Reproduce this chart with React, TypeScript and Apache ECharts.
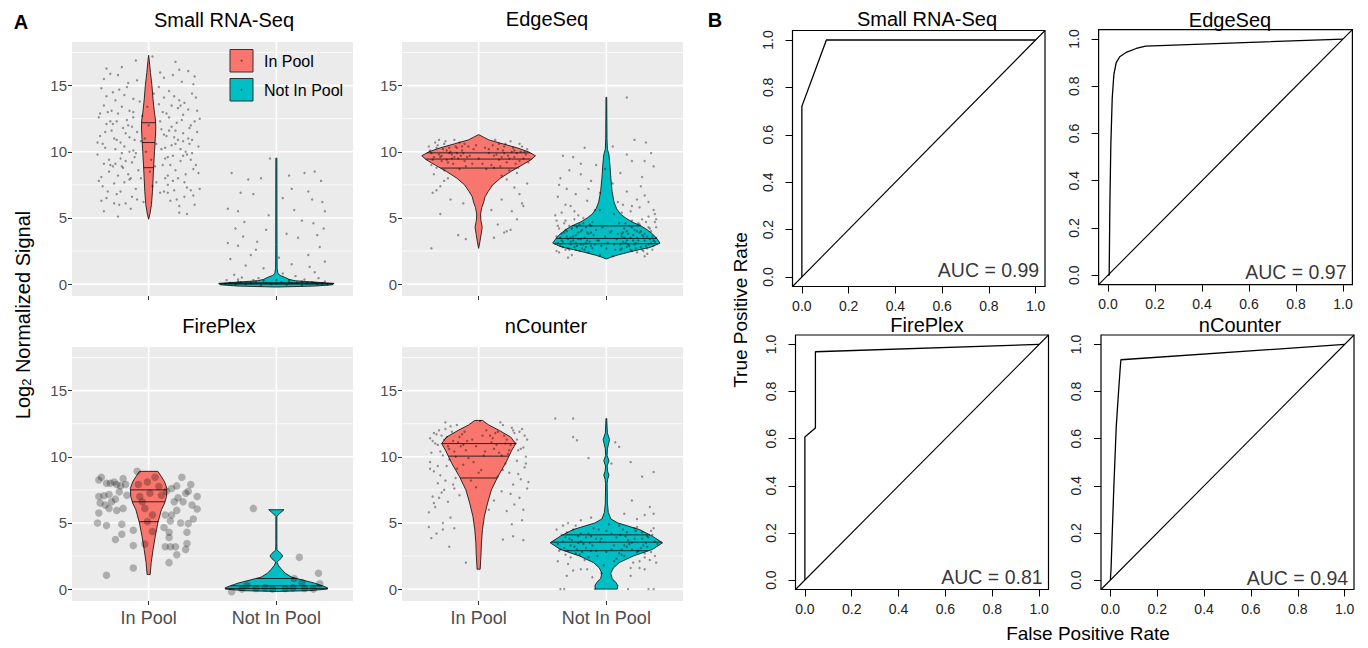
import React, { useEffect, useRef } from "react";
import * as echarts from "echarts";

const FONT = "'Liberation Sans', Arial, Helvetica, sans-serif";
const RED = "#F8766D";
const TEAL = "#00BFC4";

const platforms = ["Small RNA-Seq", "EdgeSeq", "FirePlex", "nCounter"];
const groups = ["In Pool", "Not In Pool"];
const groupPos = [1, 2];
const aucValues = [0.99, 0.97, 0.81, 0.94];
const signalTicks = [0, 5, 10, 15];
const signalMinor = [2.5, 7.5, 12.5, 17.5];
const rateTicks = [0, 0.2, 0.4, 0.6, 0.8, 1.0];

// Violin outlines: [log2 signal, half width (category units)]
const violinSmallIn = [[4.9, 0], [5.3, 0.01], [6, 0.022], [7, 0.03], [8, 0.035], [9, 0.04], [10, 0.046], [11, 0.052], [11.8, 0.056], [12.4, 0.054], [13, 0.045], [14, 0.034], [15, 0.026], [16, 0.014], [16.8, 0.006], [17.3, 0]];
const violinSmallNot = [[-0.22, 0], [-0.15, 0.3], [-0.05, 0.44], [0.05, 0.45], [0.15, 0.3], [0.25, 0.15], [0.35, 0.1], [0.5, 0.07], [0.65, 0.03], [0.8, 0.012], [1.2, 0.006], [3, 0.005], [9.5, 0.004], [9.55, 0]];
const violinEdgeIn = [[2.7, 0], [3.2, 0.01], [3.8, 0.02], [4.3, 0.028], [4.8, 0.018], [5.3, 0.015], [5.8, 0.025], [6.2, 0.04], [6.6, 0.05], [7, 0.075], [7.5, 0.11], [8, 0.17], [8.5, 0.25], [9, 0.34], [9.4, 0.41], [9.7, 0.445], [10, 0.39], [10.3, 0.3], [10.6, 0.19], [10.9, 0.08], [11.1, 0.04], [11.3, 0]];
const violinEdgeNot = [[1.9, 0], [2.05, 0.04], [2.2, 0.09], [2.5, 0.21], [2.8, 0.35], [3.1, 0.42], [3.5, 0.39], [3.8, 0.36], [4.1, 0.32], [4.4, 0.27], [4.7, 0.2], [5, 0.15], [5.3, 0.11], [5.7, 0.08], [6.2, 0.06], [7, 0.045], [8, 0.035], [9, 0.028], [9.8, 0.02], [10.2, 0.008], [11, 0.005], [14.1, 0.003], [14.15, 0]];
const violinFireIn = [[1.1, 0], [1.1, 0.012], [2, 0.02], [3, 0.035], [4, 0.052], [5, 0.072], [6, 0.1], [6.5, 0.125], [7, 0.14], [7.6, 0.143], [8.1, 0.125], [8.5, 0.1], [8.9, 0.072], [8.9, 0]];
const violinFireNot = [[-0.18, 0], [-0.12, 0.25], [0, 0.4], [0.1, 0.4], [0.25, 0.36], [0.45, 0.3], [0.7, 0.2], [0.9, 0.12], [1.2, 0.07], [1.5, 0.04], [1.8, 0.015], [2.05, 0.005], [2.3, 0.035], [2.5, 0.05], [2.7, 0.035], [2.95, 0.005], [3.5, 0.004], [5.5, 0.004], [5.75, 0.03], [6.0, 0.06], [6.0, 0]];
const violinNcIn = [[1.5, 0], [1.5, 0.012], [2.5, 0.018], [3.5, 0.022], [4.5, 0.03], [5.5, 0.045], [6.5, 0.07], [7.5, 0.1], [8.5, 0.15], [9.5, 0.21], [10, 0.235], [10.5, 0.26], [11, 0.29], [11.5, 0.25], [12, 0.16], [12.4, 0.08], [12.75, 0.03], [12.75, 0]];
const violinNcNot = [[0, 0], [0, 0.085], [0.25, 0.09], [0.5, 0.075], [0.8, 0.045], [1.2, 0.035], [1.6, 0.055], [2, 0.1], [2.5, 0.21], [3, 0.36], [3.5, 0.44], [4, 0.36], [4.5, 0.26], [5, 0.09], [5.3, 0.035], [5.8, 0.015], [6.5, 0.008], [8, 0.006], [8.3, 0.01], [8.6, 0.02], [8.9, 0.01], [9.3, 0.006], [9.7, 0.02], [10.1, 0.006], [10.6, 0.008], [11.3, 0.025], [11.8, 0.008], [12.9, 0.003], [12.9, 0]];

// Quantile lines (25%, 50%, 75%)
const quantSmallIn = [8.8, 10.7, 12.2];
const quantSmallNot = [0.0, 0.05, 0.1];
const quantEdgeIn = [8.77, 9.45, 9.92];
const quantEdgeNot = [3.05, 3.45, 4.4];
const quantFireIn = [5.1, 6.6, 7.5];
const quantFireNot = [0.05, 0.25, 0.8];
const quantNcIn = [8.4, 10.05, 11.0];
const quantNcNot = [2.9, 3.55, 4.1];

// Jittered points: flat [jitter offset, log2 signal, ...]
const ptsSmallIn = [
  -.38, 11.2, -.35, 13.5, -.31, 9.4, -.28, 12.1, -.25, 6.8, -.22, 10.7, -.19, 14.3, -.16, 8.3, -.13, 11.9, -.1, 7.2,
  -.37, 8.1, -.34, 10.3, -.3, 15.9, -.27, 7.6, -.24, 12.9, -.21, 9.9, -.18, 6.1, -.15, 13.1, -.12, 10.1, -.09, 15.4,
  -.39, 12.6, -.33, 6.5, -.29, 11.6, -.26, 9.1, -.23, 14.7, -.2, 8.8, -.17, 12.4, -.14, 5.7, -.11, 9.6, -.07, 13.8,
  -.36, 7.4, -.32, 13.0, -.28, 8.9, -.25, 10.9, -.21, 16.4, -.18, 11.4, -.15, 7.9, -.12, 14.0, -.08, 8.6, -.05, 12.7,
  -.4, 9.8, -.35, 5.5, -.3, 12.3, -.26, 13.9, -.22, 7.0, -.19, 10.4, -.16, 15.2, -.13, 9.2, -.09, 6.4, -.06, 10.8,
  .38, 11.5, .35, 8.7, .31, 13.2, .28, 6.6, .25, 10.2, .22, 12.2, .19, 7.8, .16, 14.6, .13, 9.5, .1, 11.7,
  .37, 14.1, .34, 9.9, .3, 7.3, .27, 12.8, .24, 5.9, .21, 10.6, .18, 13.5, .15, 8.2, .12, 15.6, .09, 6.9,
  .39, 8.4, .33, 12.0, .29, 10.0, .26, 15.3, .23, 8.0, .2, 11.1, .17, 6.3, .14, 12.9, .11, 9.0, .08, 13.6,
  .36, 6.0, .32, 11.8, .28, 13.7, .25, 9.3, .21, 16.8, .18, 10.5, .15, 7.5, .12, 11.3, .08, 14.9, .05, 8.9,
  .4, 12.5, .34, 10.9, .3, 5.3, .27, 9.7, .23, 13.3, .2, 7.1, .16, 11.6, .13, 10.3, .09, 16.0, .06, 7.7,
  -.03, 11.0, .02, 9.4, -.01, 13.4, .03, 7.4, .0, 12.0, -.04, 6.2, .04, 14.4, -.02, 10.0, .01, 8.5, .03, 17.2,
  -.33, 16.3, .19, 15.8, -.1, 16.9, .31, 16.1, -.24, 5.1, .24, 5.4, -.37, 14.8, .35, 15.1,
  -.39, 7.8, -.36, 10.6, -.33, 14.2, -.3, 9.0, -.27, 11.0, -.24, 8.2, -.21, 13.4, -.18, 9.3, -.15, 11.1, -.12, 12.6,
  -.38, 12.9, -.35, 9.1, -.32, 7.0, -.29, 13.1, -.26, 10.2, -.23, 6.0, -.2, 11.8, -.17, 14.9, -.14, 8.0, -.11, 10.9,
  -.37, 6.3, -.34, 11.5, -.31, 8.5, -.28, 14.5, -.25, 12.3, -.22, 9.5, -.19, 7.7, -.16, 12.0, -.13, 6.6, -.1, 9.9,
  -.4, 10.7, -.33, 12.1, -.27, 6.1, -.21, 8.9, -.15, 10.0, -.09, 11.5, -.06, 8.0, -.35, 15.5, -.24, 15.8, -.12, 13.0,
  .39, 10.4, .36, 12.3, .33, 7.1, .3, 9.8, .27, 11.4, .24, 13.9, .21, 8.6, .18, 11.9, .15, 9.6, .12, 7.0,
  .38, 13.1, .35, 6.7, .32, 10.6, .29, 8.3, .26, 12.4, .23, 10.9, .2, 14.2, .17, 9.0, .14, 11.2, .11, 13.0,
  .37, 9.0, .34, 14.4, .31, 11.0, .28, 7.7, .25, 13.5, .22, 6.4, .19, 9.7, .16, 12.6, .13, 8.0, .1, 10.2,
  .4, 7.2, .33, 9.4, .27, 10.8, .21, 11.6, .15, 6.9, .09, 12.3, .06, 10.6, .36, 15.7, .24, 16.2, .12, 14.1,
];
const ptsSmallNot = [
  -.35, 8.4, -.28, 6.9, -.22, 7.9, -.12, 8.0, .1, 8.2, .22, 8.4, .3, 8.5, .35, 7.8, -.05, 9.5, .25, 7.0,
  -.38, 5.7, -.3, 5.5, -.18, 6.8, -.08, 4.1, .05, 6.5, .14, 5.6, .28, 6.4, .36, 6.2, .38, 5.5, .2, 4.8,
  -.32, 4.2, -.26, 3.6, -.15, 3.2, -.3, 2.9, -.38, 3.1, .08, 3.8, .17, 3.5, .32, 3.7, .34, 2.8, .25, 2.2,
  -.36, 1.9, -.24, 1.4, -.1, 1.2, -.2, 2.2, .02, 2.0, .12, 1.5, .26, 1.3, .38, 1.7, .3, 0.9, -.33, 0.7,
  -.39, 0.3, -.3, 0.2, -.2, 0.1, -.1, 0.25, .0, 0.3, .1, 0.15, .2, 0.2, .3, 0.1, .38, 0.2, -.27, 0.5,
  .15, 0.6, .05, 0.8, -.14, 0.45, .33, 0.45, -.06, 5.2, .12, 7.2, -.25, 4.7, .29, 4.6, .37, 4.2, -.16, 2.6,
  -.4, 0.05, -.36, 0.1, -.32, -0.05, -.28, 0.15, -.24, 0, -.2, 0.05, -.16, 0.2, -.12, -0.1, -.08, 0.1, -.04, 0,
  .0, 0.05, .04, 0.15, .08, -0.05, .12, 0.05, .16, 0.1, .2, -0.1, .24, 0.05, .28, 0.15, .32, 0, .36, 0.05,
  .4, -0.05, -.3, 0.35, .22, 0.35, -.18, 0.3, .1, 0.3,
];
const ptsEdgeIn = [
  -.38, 10.1, -.35, 9.6, -.32, 10.5, -.29, 9.3, -.26, 10.8, -.23, 9.9, -.2, 9.1, -.17, 10.3, -.14, 9.7, -.11, 10.6,
  -.37, 9.0, -.34, 10.7, -.31, 9.8, -.28, 10.2, -.25, 9.4, -.22, 10.0, -.19, 10.9, -.16, 9.5, -.13, 10.1, -.1, 8.9,
  -.39, 10.4, -.33, 8.8, -.3, 9.6, -.27, 10.6, -.24, 9.2, -.21, 9.8, -.18, 10.4, -.15, 8.7, -.12, 9.9, -.08, 10.4,
  -.36, 9.4, -.31, 10.9, -.27, 8.6, -.23, 10.3, -.19, 9.6, -.15, 10.7, -.11, 9.3, -.07, 9.7, -.04, 10.2, .0, 9.5,
  .38, 10.2, .35, 9.5, .32, 10.6, .29, 9.1, .26, 10.0, .23, 9.7, .2, 10.4, .17, 8.9, .14, 9.8, .11, 10.5,
  .37, 9.8, .34, 10.4, .31, 8.8, .28, 9.6, .25, 10.8, .22, 9.2, .19, 10.1, .16, 9.4, .13, 10.9, .1, 9.0,
  .39, 9.2, .33, 10.0, .3, 9.9, .27, 10.3, .24, 8.6, .21, 10.6, .18, 9.6, .15, 10.2, .12, 8.8, .08, 9.9,
  .05, 10.3, .03, 9.1, -.02, 10.5, .06, 8.7, -.05, 9.1,
  -.3, 7.4, -.33, 7.1, -.27, 7.8, -.36, 6.9, -.22, 6.4, -.3, 5.3, -.12, 6.1, -.16, 3.7, -.1, 3.4, -.37, 2.7,
  .22, 7.9, .28, 7.3, .32, 6.8, .18, 6.4, .35, 5.9, .26, 5.5, .3, 4.9, .15, 4.5, .22, 4.0, .12, 3.5, .2, 3.9, .25, 4.1, .38, 7.6, .1, 5.6, .34, 6.1,
  -.37, 9.9, -.33, 10.3, -.29, 9.7, -.25, 10.1, -.21, 9.5, -.17, 9.9, -.13, 10.4, -.09, 9.6, .36, 10.0, .32, 9.3,
  .28, 10.1, .24, 9.5, .2, 9.9, .16, 10.6, .12, 9.7, .08, 10.2, -.35, 8.3, .3, 8.4, -.24, 8.0, .18, 8.2,
];
const ptsEdgeNot = [
  -.38, 3.1, -.35, 3.8, -.32, 2.6, -.29, 4.4, -.26, 3.3, -.23, 2.9, -.2, 4.0, -.17, 3.5, -.14, 2.4, -.11, 4.7,
  -.37, 4.2, -.34, 2.8, -.31, 3.6, -.28, 3.0, -.25, 4.9, -.22, 3.9, -.19, 2.7, -.16, 4.3, -.13, 3.2, -.1, 3.7,
  -.39, 2.5, -.33, 4.6, -.3, 3.4, -.27, 2.2, -.24, 3.7, -.21, 4.5, -.18, 3.0, -.15, 3.9, -.12, 2.9, -.08, 4.1,
  -.36, 3.5, -.32, 4.1, -.28, 3.2, -.24, 2.6, -.2, 3.4, -.16, 2.8, -.12, 4.4, -.07, 3.3, -.04, 2.9, -.01, 3.6,
  .38, 3.2, .35, 4.0, .32, 2.7, .29, 3.6, .26, 4.5, .23, 3.1, .2, 2.5, .17, 3.8, .14, 4.2, .11, 3.0,
  .37, 2.9, .34, 3.4, .31, 4.7, .28, 2.6, .25, 3.3, .22, 4.1, .19, 3.5, .16, 2.8, .13, 3.9, .1, 4.6,
  .39, 4.3, .33, 3.0, .3, 3.8, .27, 4.0, .24, 2.4, .21, 3.7, .18, 4.4, .15, 3.1, .12, 2.7, .08, 3.4,
  .36, 3.6, .32, 2.3, .28, 4.9, .24, 3.5, .2, 4.8, .16, 3.3, .12, 3.6, .07, 2.6, .04, 4.0, .01, 3.1,
  -.35, 5.4, -.28, 5.9, -.22, 5.2, -.15, 6.3, -.09, 5.6, .06, 5.3, .13, 6.0, .19, 5.5, .26, 5.8, .33, 5.1,
  -.38, 6.6, -.31, 7.2, -.24, 6.8, -.18, 5.0, .16, 7.0, .24, 6.4, .3, 6.7, .37, 5.6, -.05, 6.9, .09, 6.2,
  -.36, 8.0, -.29, 8.6, -.2, 9.1, -.12, 7.8, -.26, 9.6, .11, 8.4, .2, 9.3, .28, 8.1, .35, 9.9, .31, 10.7,
  -.34, 9.7, -.17, 10.3, .05, 10.4, .16, 9.8, .22, 10.9, -.08, 9.0, .37, 8.9, .16, 14.1,
  -.39, 4.8, .39, 4.9, -.05, 2.2, .05, 2.1, -.3, 2.0, .3, 2.1,
  -.39, 3.6, -.36, 2.9, -.33, 3.9, -.3, 2.7, -.27, 4.2, -.24, 3.1, -.21, 2.5, -.18, 4.6, -.15, 3.3, -.12, 3.9,
  -.38, 4.4, -.35, 3.3, -.32, 4.8, -.29, 2.6, -.26, 3.6, -.23, 4.3, -.2, 3.0, -.17, 2.6, -.14, 3.8, -.11, 2.7,
  -.37, 2.4, -.34, 3.2, -.31, 4.0, -.28, 3.5, -.25, 2.8, -.22, 3.4, -.19, 4.1, -.16, 3.1, -.13, 4.5, -.09, 3.0,
  .39, 3.5, .36, 2.6, .33, 4.3, .3, 3.3, .27, 2.8, .24, 4.0, .21, 3.3, .18, 2.9, .15, 4.6, .12, 3.8,
  .38, 4.7, .35, 3.1, .32, 3.6, .29, 2.5, .26, 3.9, .23, 2.7, .2, 4.3, .17, 3.0, .14, 3.5, .11, 2.6,
  .37, 3.3, .34, 4.2, .31, 2.9, .28, 3.7, .25, 4.6, .22, 3.0, .19, 2.6, .16, 4.0, .13, 3.2, .09, 3.8,
  -.06, 3.3, -.03, 4.3, .0, 2.7, .03, 3.9, .06, 3.0, -.05, 5.6, .2, 5.9, -.25, 5.5, .33, 6.2, -.32, 6.0,
  -.14, 7.2, .05, 7.6, .27, 7.4, -.37, 7.5, .12, 5.4, -.2, 8.3, .3, 9.3, -.01, 8.7, .38, 5.3, -.4, 5.2,
];
const ptsFireIn = [
  -.39, 8.25, -.37, 8.45, -.33, 8.0, -.3, 8.0, -.27, 8.1, -.25, 7.9, -.22, 7.8, -.18, 7.9, -.2, 8.35,
  -.39, 7.0, -.35, 7.05, -.31, 7.15, -.29, 6.6, -.26, 6.8, -.23, 7.35, -.17, 7.1, -.38, 6.5, -.34, 6.35,
  -.39, 5.75, -.31, 6.1, -.25, 5.95, -.2, 6.1, -.4, 5.0, -.33, 4.8, -.21, 4.9, -.26, 3.75, -.21, 4.15,
  -.12, 4.45, -.12, 3.3, -.12, 1.6, -.33, 1.05,
  .26, 8.45, .22, 7.8, .18, 7.6, .14, 7.4, .33, 7.9, .31, 7.4, .29, 7.25, .38, 7.0, .23, 6.9, .2, 6.6,
  .27, 6.6, .34, 6.35, .38, 6.05, .22, 5.95, .18, 5.6, .13, 5.6, .35, 5.3, .25, 5.0, .31, 4.95, .17, 5.15,
  .12, 4.65, .16, 4.3, .3, 4.3, .16, 3.9, .13, 3.2, .17, 3.2, .21, 3.2, .3, 3.45, .29, 3.0, .22, 2.6, .16, 2.0,
  .05, 8.45, -.01, 8.1, -.08, 7.9, .08, 7.75, .01, 7.25, -.07, 7.0, .1, 7.1, -.05, 6.6, -.03, 6.1, .03, 5.6,
  -.01, 5.1, .03, 4.35, -.03, 3.4, -.09, 8.9,
];
const ptsFireNot = [
  -.18, 6.1, .18, 2.4, .33, 1.2, .14, 0.8, -.35, -0.2, -.27, 0, -.16, 0.05, -.09, 0.1,
  .07, 0.05, .13, 0.1, .22, 0.05, .29, 0, -.03, 0, -.23, 0.3, .2, 0.5, .34, 0.4,
];
const ptsNcIn = [
  -.38, 11.4, -.35, 11.8, -.32, 10.9, -.29, 11.6, -.26, 12.1, -.23, 10.6, -.2, 11.2, -.17, 12.4, -.14, 10.8, -.11, 11.9,
  -.37, 10.3, -.34, 11.0, -.31, 12.0, -.28, 10.1, -.25, 11.5, -.22, 12.3, -.19, 10.4, -.16, 11.1, -.13, 11.7, -.1, 10.5,
  .38, 11.3, .35, 10.7, .32, 11.9, .29, 11.0, .26, 12.2, .23, 10.2, .2, 11.6, .17, 12.6, .14, 10.9, .11, 11.4,
  .37, 10.0, .34, 12.1, .31, 10.5, .28, 11.8, .25, 10.9, .22, 11.3, .19, 12.4, .16, 10.3, .13, 11.8, .1, 11.1,
  -.38, 9.6, -.35, 8.9, -.32, 9.3, -.29, 7.3, -.26, 8.2, -.23, 9.8, -.2, 7.9, -.17, 9.1, -.36, 7.0, -.3, 8.6,
  -.34, 6.2, -.27, 7.5, -.24, 6.6, -.18, 8.4, -.12, 9.4, -.39, 5.8, -.31, 6.9, -.22, 5.4, -.15, 7.1, -.08, 9.9,
  .36, 9.2, .33, 8.3, .3, 9.7, .27, 7.9, .24, 8.8, .21, 9.5, .18, 7.4, .38, 7.6, .32, 6.9, .15, 8.5,
  .35, 6.0, .28, 6.4, .22, 5.9, .12, 6.7, .39, 8.1,
  -.39, 4.7, -.37, 3.85, -.33, 4.2, -.19, 4.6, -.23, 3.2, -.1, 2.0, -.28, 5.0, .19, 3.75, .27, 4.0, .35, 3.7, .34, 5.2, .26, 4.9,
  .05, 10.4, -.05, 11.3, .02, 9.0, -.02, 7.7, .06, 12.0, -.06, 8.2, .01, 12.7, .08, 6.0, -.26, 12.6,
  -.36, 11.2, -.33, 11.7, -.3, 10.4, -.27, 11.3, -.24, 10.8, -.21, 11.9, -.18, 10.0, -.15, 11.5, -.12, 10.9, -.09, 11.2,
  .36, 11.6, .33, 10.6, .3, 11.3, .27, 12.0, .24, 10.5, .21, 11.0, .18, 10.1, .15, 11.9, .12, 10.6, .09, 11.6,
  -.38, 9.1, -.32, 8.0, -.25, 9.3, -.19, 7.6, -.35, 6.5, -.28, 4.5, .37, 9.5, .31, 8.7, .25, 7.2, .19, 9.0,
  -.02, 10.8, .03, 11.6, -.04, 9.6, .0, 8.8, .04, 10.1,
];
const ptsNcNot = [
  -.38, 3.4, -.35, 4.1, -.32, 2.6, -.29, 3.8, -.26, 4.5, -.23, 3.0, -.2, 3.6, -.17, 2.2, -.14, 4.2, -.11, 3.3,
  -.37, 2.9, -.34, 3.6, -.31, 4.3, -.28, 2.4, -.25, 3.2, -.22, 4.0, -.19, 2.8, -.16, 3.9, -.13, 3.5, -.1, 4.6,
  -.39, 4.5, -.33, 3.1, -.3, 1.9, -.27, 3.7, -.24, 4.8, -.21, 2.6, -.18, 3.4, -.15, 1.5, -.12, 2.9, -.08, 3.8,
  .38, 3.6, .35, 2.8, .32, 4.0, .29, 3.3, .26, 2.1, .23, 4.4, .2, 3.0, .17, 3.7, .14, 2.5, .11, 4.1,
  .37, 4.6, .34, 2.2, .31, 3.5, .28, 4.3, .25, 2.9, .22, 3.8, .19, 1.6, .16, 3.2, .13, 4.5, .1, 2.7,
  .39, 2.0, .33, 3.9, .3, 2.4, .27, 3.1, .24, 4.7, .21, 2.0, .18, 3.4, .15, 4.0, .12, 3.0, .08, 2.3,
  -.05, 3.6, .0, 2.8, .04, 4.2, -.02, 1.8, .06, 3.3, -.07, 2.5, .02, 4.9, -.04, 1.2,
  -.36, 0, -.33, 0, .17, 0, .33, 0, .37, 0, -.09, 0, -.31, 1.0, -.11, 0.9, .19, 1.0, .3, 1.5, -.2, 1.5,
  -.4, 12.9, -.26, 12.9, -.26, 11.5, -.23, 11.25, .07, 11.1, .1, 10.75, -.14, 9.9, .19, 9.6, .04, 9.5, .28, 8.5, .37, 8.85,
  .2, 6.7, .34, 6.2, .37, 5.7, .14, 5.7, .24, 5.3, -.2, 5.2, -.3, 5.0, .3, 5.6, -.12, 5.4,
  -.36, 3.0, -.32, 3.9, -.28, 3.3, -.24, 2.7, -.2, 4.2, -.16, 3.1, -.12, 4.0, -.08, 2.9, -.04, 3.8, .0, 4.4,
  .04, 3.0, .08, 3.9, .12, 2.6, .16, 4.3, .2, 3.5, .24, 2.8, .28, 3.8, .32, 3.2, .36, 4.1, .4, 3.4,
  -.38, 2.1, -.3, 2.9, -.22, 3.5, -.14, 2.4, -.06, 4.5, .06, 2.1, .14, 3.3, .22, 4.6, .3, 2.7, .38, 2.5,
  -.26, 1.4, .26, 1.6, -.34, 4.8, .1, 4.8, .35, 4.4,
];

// ROC curves: [false positive rate, true positive rate]
const rocSmall = [[0, 0], [0, 0.72], [0.105, 1.0], [1, 1]];
const rocEdge = [[0, 0], [0.005, 0], [0.008, 0.3], [0.012, 0.55], [0.018, 0.75], [0.025, 0.85], [0.035, 0.9], [0.05, 0.925], [0.08, 0.945], [0.12, 0.96], [0.16, 0.97], [1, 1]];
const rocFire = [[0, 0], [0, 0.607], [0.045, 0.645], [0.045, 0.969], [1, 1]];
const rocNc = [[0, 0], [0.003, 0.05], [0.008, 0.2], [0.015, 0.4], [0.025, 0.65], [0.035, 0.8], [0.042, 0.9], [0.045, 0.935], [1, 1]];
const diagonal = [[-0.04, -0.04], [1.04, 1.04]];

const violinSets = [
  [violinSmallIn, violinSmallNot, quantSmallIn, quantSmallNot, ptsSmallIn, ptsSmallNot],
  [violinEdgeIn, violinEdgeNot, quantEdgeIn, quantEdgeNot, ptsEdgeIn, ptsEdgeNot],
  [violinFireIn, violinFireNot, quantFireIn, quantFireNot, ptsFireIn, ptsFireNot],
  [violinNcIn, violinNcNot, quantNcIn, quantNcNot, ptsNcIn, ptsNcNot],
];
const rocSets = [rocSmall, rocEdge, rocFire, rocNc];

// Layout
const aGrids = [
  { left: 72, top: 42, width: 281, height: 254 },
  { left: 402, top: 42, width: 281, height: 254 },
  { left: 72, top: 347, width: 281, height: 254 },
  { left: 402, top: 347, width: 281, height: 254 },
];
const aTitlePos = [[224, 20], [547, 19], [219, 326], [546, 326]];
const bGrids = [
  { left: 792.5, top: 30.5, width: 252.5, height: 256 },
  { left: 1098.6, top: 29.6, width: 253.8, height: 255 },
  { left: 795.5, top: 335, width: 253, height: 254.5 },
  { left: 1101, top: 335, width: 253, height: 254.5 },
];
const bTitlePos = [[927, 19], [1230, 20], [927, 325], [1240, 325]];
const aucYPos = [0.03, 0.015, 0.015, 0.01];

function widthAt(profile: number[][], y: number) {
  for (let i = 0; i < profile.length - 1; i++) {
    const [y0, w0] = profile[i];
    const [y1, w1] = profile[i + 1];
    if (y >= y0 && y <= y1) {
      if (y1 === y0) return Math.max(w0, w1);
      return w0 + ((w1 - w0) * (y - y0)) / (y1 - y0);
    }
  }
  return 0;
}

function pairs(flat: number[], center: number) {
  const out: number[][] = [];
  for (let i = 0; i < flat.length; i += 2) out.push([center + flat[i], flat[i + 1]]);
  return out;
}

function violinSeries(gi: number, center: number, profile: number[][], quants: number[], color: string, name: string) {
  return {
    type: "custom",
    name,
    xAxisIndex: gi,
    yAxisIndex: gi,
    z: 3,
    silent: true,
    data: [[center, 0]],
    renderItem: (_params: any, api: any) => {
      const right = profile.map(([y, w]) => api.coord([center + w, y]));
      const left = profile.slice().reverse().map(([y, w]) => api.coord([center - w, y]));
      const children: any[] = [
        { type: "polygon", shape: { points: right.concat(left) }, style: { fill: color, stroke: "#1a1a1a", lineWidth: 0.9 } },
      ];
      quants.forEach((q) => {
        const w = widthAt(profile, q);
        const a = api.coord([center - w, q]);
        const b = api.coord([center + w, q]);
        children.push({ type: "line", shape: { x1: a[0], y1: a[1], x2: b[0], y2: b[1] }, style: { stroke: "#1a1a1a", lineWidth: 0.9 } });
      });
      return { type: "group", children };
    },
  };
}

function gridLineSeries(gi: number) {
  return {
    type: "custom",
    xAxisIndex: gi,
    yAxisIndex: gi,
    z: 1,
    silent: true,
    data: [[1, 0]],
    renderItem: (params: any, api: any) => {
      const cs = params.coordSys;
      const children: any[] = [];
      const h = (v: number, lw: number) => {
        const p = api.coord([1, v]);
        children.push({ type: "line", shape: { x1: cs.x, y1: p[1], x2: cs.x + cs.width, y2: p[1] }, style: { stroke: "#ffffff", lineWidth: lw } });
      };
      signalMinor.forEach((v) => h(v, 0.8));
      signalTicks.forEach((v) => h(v, 1.6));
      groupPos.forEach((c) => {
        const p = api.coord([c, 0]);
        children.push({ type: "line", shape: { x1: p[0], y1: cs.y, x2: p[0], y2: cs.y + cs.height }, style: { stroke: "#ffffff", lineWidth: 1.6 } });
      });
      return { type: "group", children };
    },
  };
}

function txt(text: string, x: number, y: number, size: number, extra: any = {}) {
  return {
    type: "text",
    x,
    y,
    rotation: extra.rotation || 0,
    z: 10,
    style: {
      text,
      fontSize: size,
      fontFamily: FONT,
      fontWeight: extra.bold ? "bold" : "normal",
      fill: extra.color || "#000",
      align: extra.align || "center",
      textAlign: extra.align || "center",
      verticalAlign: "middle",
      textVerticalAlign: "middle",
      rich: extra.rich,
    },
  };
}

function buildOption() {
  const grid: any[] = [];
  const xAxis: any[] = [];
  const yAxis: any[] = [];
  const series: any[] = [];

  aGrids.forEach((g, i) => {
    grid.push({ ...g, show: true, backgroundColor: "#EBEBEB", borderWidth: 0, containLabel: false, outerBoundsMode: "none" });
    xAxis.push({
      gridIndex: i, type: "value", min: 0.4, max: 2.6, position: "bottom",
      axisLine: { show: false, onZero: false }, splitLine: { show: false },
      axisTick: { show: true, customValues: groupPos, length: 4, lineStyle: { color: "#333", width: 1 } },
      axisLabel: { show: i >= 2, customValues: groupPos, formatter: (v: number) => groups[Math.round(v) - 1] || "", fontSize: 18, color: "#4D4D4D", margin: 8, fontFamily: FONT },
    });
    yAxis.push({
      gridIndex: i, type: "value", min: -0.9, max: 18.3, position: "left",
      axisLine: { show: false, onZero: false }, splitLine: { show: false },
      axisTick: { show: true, customValues: signalTicks, length: 4, lineStyle: { color: "#333", width: 1 } },
      axisLabel: { customValues: signalTicks, fontSize: 15, color: "#4D4D4D", margin: 5, fontFamily: FONT },
    });
    const [vIn, vNot, qIn, qNot, pIn, pNot] = violinSets[i] as any;
    series.push(gridLineSeries(i));
    series.push(violinSeries(i, groupPos[0], vIn, qIn, RED, groups[0]));
    series.push(violinSeries(i, groupPos[1], vNot, qNot, TEAL, groups[1]));
    const big = i === 2;
    series.push({
      type: "scatter", xAxisIndex: i, yAxisIndex: i, z: 4, silent: true,
      data: pairs(pIn, groupPos[0]).concat(pairs(pNot, groupPos[1])),
      symbolSize: big ? 7.5 : 2.4,
      itemStyle: { color: big ? "rgba(0,0,0,0.33)" : "rgba(0,0,0,0.5)" },
    });
  });

  bGrids.forEach((g, k) => {
    const i = 4 + k;
    grid.push({ ...g, show: true, backgroundColor: "transparent", borderColor: "#000", borderWidth: 1.2, containLabel: false, outerBoundsMode: "none" });
    xAxis.push({
      gridIndex: i, type: "value", min: -0.04, max: 1.04, position: "bottom",
      axisLine: { show: false, onZero: false }, splitLine: { show: false },
      axisTick: { show: true, customValues: rateTicks, length: 7, lineStyle: { color: "#000", width: 1 } },
      axisLabel: { customValues: rateTicks, formatter: (v: number) => v.toFixed(1), fontSize: 14, color: "#222", margin: 12, fontFamily: FONT },
    });
    yAxis.push({
      gridIndex: i, type: "value", min: -0.04, max: 1.04, position: "left",
      axisLine: { show: false, onZero: false }, splitLine: { show: false },
      axisTick: { show: true, customValues: rateTicks, length: 7, lineStyle: { color: "#000", width: 1 } },
      axisLabel: { customValues: rateTicks, formatter: (v: number) => v.toFixed(1), fontSize: 14, color: "#222", margin: 18, rotate: 90, fontFamily: FONT },
    });
    series.push({
      type: "line", xAxisIndex: i, yAxisIndex: i, data: diagonal, showSymbol: false, silent: true,
      lineStyle: { color: "#000", width: 1.1 }, z: 2,
    });
    series.push({
      type: "line", xAxisIndex: i, yAxisIndex: i, data: rocSets[k], showSymbol: false, silent: true,
      lineStyle: { color: "#000", width: 1.3 }, z: 3,
    });
    series.push({
      type: "scatter", xAxisIndex: i, yAxisIndex: i, silent: true, z: 4,
      data: [[1.0, aucYPos[k]]], symbolSize: 1, itemStyle: { color: "rgba(0,0,0,0)" },
      label: { show: true, position: "left", distance: -4, formatter: `AUC = ${aucValues[k].toFixed(2)}`, fontSize: 19.5, color: "#000", fontFamily: FONT },
    });
  });

  const graphic: any[] = [];
  platforms.forEach((p, i) => {
    graphic.push(txt(p, aTitlePos[i][0], aTitlePos[i][1], 20));
    graphic.push(txt(p, bTitlePos[i][0], bTitlePos[i][1], 20));
  });
  graphic.push(txt("A", 21, 22, 20, { bold: true }));
  graphic.push(txt("B", 715, 20, 20, { bold: true }));
  graphic.push(
    txt("{a|Log}{b|2}{a| Normalized Signal}", 23, 315, 20, {
      rotation: Math.PI / 2,
      rich: {
        a: { fontSize: 20, fontFamily: FONT, lineHeight: 24 },
        b: { fontSize: 13, fontFamily: FONT, verticalAlign: "bottom", padding: [0, 0, 2, 0] },
      },
    })
  );
  graphic.push(txt("True Positive Rate", 740, 310, 19, { rotation: Math.PI / 2 }));
  graphic.push(txt("False Positive Rate", 1088, 633, 19));

  // legend
  const keyColors = [RED, TEAL];
  const keyY = [49.5, 78.5];
  groups.forEach((gname, i) => {
    graphic.push({ type: "rect", z: 10, shape: { x: 230, y: keyY[i], width: 23, height: 22.5 }, style: { fill: keyColors[i], stroke: "#333", lineWidth: 1 } });
    graphic.push({ type: "circle", z: 11, shape: { cx: 241.5, cy: keyY[i] + 11.25, r: 1 }, style: { fill: "rgba(0,0,0,0.5)" } });
    graphic.push(txt(gname, 264, keyY[i] + 12, 16, { align: "left" }));
  });

  return {
    animation: false,
    backgroundColor: "#ffffff",
    textStyle: { fontFamily: FONT },
    grid,
    xAxis,
    yAxis,
    series,
    graphic,
  };
}

export default function App() {
  const ref = useRef<HTMLDivElement>(null);
  useEffect(() => {
    if (!ref.current) return;
    const chart = echarts.init(ref.current, null, { renderer: "svg" });
    chart.setOption(buildOption() as any);
    return () => chart.dispose();
  }, []);
  return (
    <div
      ref={ref}
      style={{ position: "fixed", left: 0, top: 0, width: 1368, height: 648, background: "#fff" }}
    />
  );
}
